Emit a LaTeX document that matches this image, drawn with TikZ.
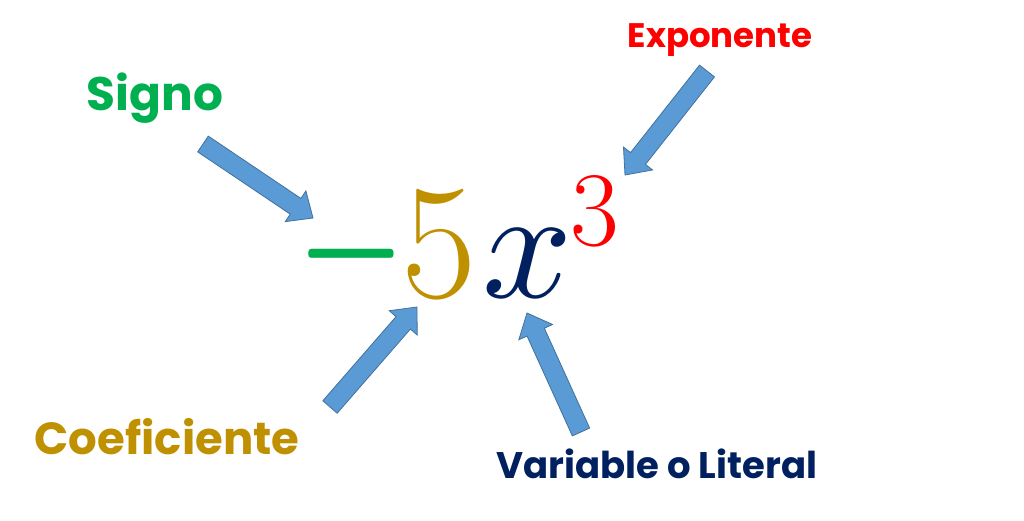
\documentclass[tikz,border=0pt]{standalone}
\usepackage{fontspec}
\usepackage{unicode-math}
\setmathfont{Latin Modern Math}
\usetikzlibrary{calc}
\newfontfamily\labelfont{Poppins}
\definecolor{sgreen}{HTML}{00B050}
\definecolor{sgold}{HTML}{BF9000}
\definecolor{snavy}{HTML}{002060}
\definecolor{sred}{HTML}{FF0000}
\definecolor{afill}{HTML}{5B9BD5}
\definecolor{aline}{HTML}{41719C}
\tikzset{
  lbl/.style={inner sep=0pt, font=\labelfont\bfseries},
  glyph/.style={inner sep=0pt, anchor=base west},
  blockarrow/.style={fill=afill, draw=aline, line width=0.8pt, line join=miter},
}
\newcommand\blockarrow[2]{%
  \coordinate (#1-hb) at ($(#2)!21pt!(#1)$);
  \draw[blockarrow]
    ($(#1)!9.5pt!90:(#2)$) -- ($(#1-hb)!9.5pt!-90:(#1)$) --
    ($(#1-hb)!18.5pt!-90:(#1)$) -- (#2) --
    ($(#1-hb)!18.5pt!90:(#1)$) -- ($(#1-hb)!9.5pt!90:(#1)$) --
    ($(#1)!9.5pt!-90:(#2)$) -- cycle;}
\begin{document}
\begin{tikzpicture}[x=1pt,y=-1pt]
\useasboundingbox[fill=white] (0,0) rectangle (1024,520);
% labels
\node[lbl, text=sgreen, font=\labelfont\bfseries\fontsize{47}{52}\selectfont] (signo) at (155,98) {Signo};
\node[lbl, text=sred, font=\labelfont\bfseries\fontsize{34}{40}\selectfont] (expo) at (720,40) {Exponente};
\node[lbl, text=sgold, font=\labelfont\bfseries\fontsize{45}{50}\selectfont] (coef) at (167,437) {Coeficiente};
\node[lbl, text=snavy, font=\labelfont\bfseries\fontsize{37}{42}\selectfont] (var) at (657,464) {Variable o Literal};
% expression
\node[glyph, text=sgreen] (minus) at (302,318) {\fontsize{136}{140}\selectfont\scalebox{1}[1.9]{−}};
\node[glyph, text=sgold] (five) at (401,297) {\fontsize{164}{166}\selectfont 5};
\node[glyph, text=snavy] (xx) at (482,297) {\fontsize{158}{160}\selectfont $x$};
\node[glyph, text=sred] (three) at (570,245) {\fontsize{106}{110}\selectfont 3};
% arrows
\coordinate (a1t) at (203,144); \coordinate (a1h) at (313,218);
\coordinate (a2t) at (707,71);  \coordinate (a2h) at (625,175);
\coordinate (a3t) at (330,407); \coordinate (a3h) at (417,307);
\coordinate (a4t) at (581,432); \coordinate (a4h) at (527,313);
\blockarrow{a1t}{a1h}
\blockarrow{a2t}{a2h}
\blockarrow{a3t}{a3h}
\blockarrow{a4t}{a4h}
\end{tikzpicture}
\end{document}
